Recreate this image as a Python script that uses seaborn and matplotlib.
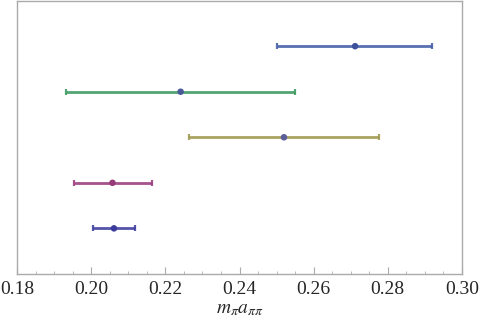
import numpy as np
import pandas as pd
import seaborn as sns
import matplotlib.pyplot as plt
from matplotlib.ticker import MultipleLocator

# values (central value, lower end, upper end)
ypos = [5, 4, 3, 2, 1]
centre = [0.2712, 0.2241, 0.2520, 0.2057, 0.2061]
lower = [0.2500, 0.1931, 0.2264, 0.1954, 0.2005]
upper = [0.2921, 0.2551, 0.2776, 0.2163, 0.2117]
line_colors = ['#4661a8', '#3f9a63', '#a19a52', '#9c3f80', '#4141a3']
dot_colors = ['#3c509c', '#4a5a98', '#5c5e98', '#963a7a', '#3a3a9c']

df = pd.DataFrame({'y': ypos, 'x': centre, 'lo': lower, 'hi': upper})

sns.set_style('white')
plt.rcParams['font.family'] = ['Liberation Serif', 'DejaVu Serif']
plt.rcParams['mathtext.fontset'] = 'stix'

fig = plt.figure(figsize=(4.8, 3.23), dpi=100)
ax = fig.add_axes([0.036, 0.152, 0.926, 0.846])

for i, row in df.iterrows():
    ax.errorbar(row['x'], row['y'],
                xerr=[[row['x'] - row['lo']], [row['hi'] - row['x']]],
                fmt='none', ecolor=line_colors[i], elinewidth=2.0,
                capsize=2.0, capthick=1.6, alpha=0.9)

sns.scatterplot(data=df, x='x', y='y', hue='y', palette=dict(zip(ypos, dot_colors)),
                s=22, edgecolor='none', legend=False, ax=ax, zorder=5)

ax.set_xlim(0.18, 0.30)
ax.set_ylim(0, 6)
ax.set_yticks([])
ax.xaxis.set_minor_locator(MultipleLocator(0.005))
ax.set_xticks(np.arange(0.18, 0.3001, 0.02))
ax.set_xticklabels(['%.2f' % v for v in np.arange(0.18, 0.3001, 0.02)])
ax.tick_params(axis='x', which='major', direction='in', length=5, width=0.8,
               color='#aaaaaa', labelsize=14, pad=5, bottom=True)
ax.tick_params(axis='x', which='minor', direction='in', length=2.5, width=0.6,
               color='#aaaaaa', bottom=True)
for s in ax.spines.values():
    s.set_color('#aaaaaa')
    s.set_linewidth(1.0)

ax.set_xlabel(r'$m_\pi a_{\pi\pi}$', fontsize=14, labelpad=2)
ax.set_ylabel('')

plt.savefig('out.png', dpi=100)
